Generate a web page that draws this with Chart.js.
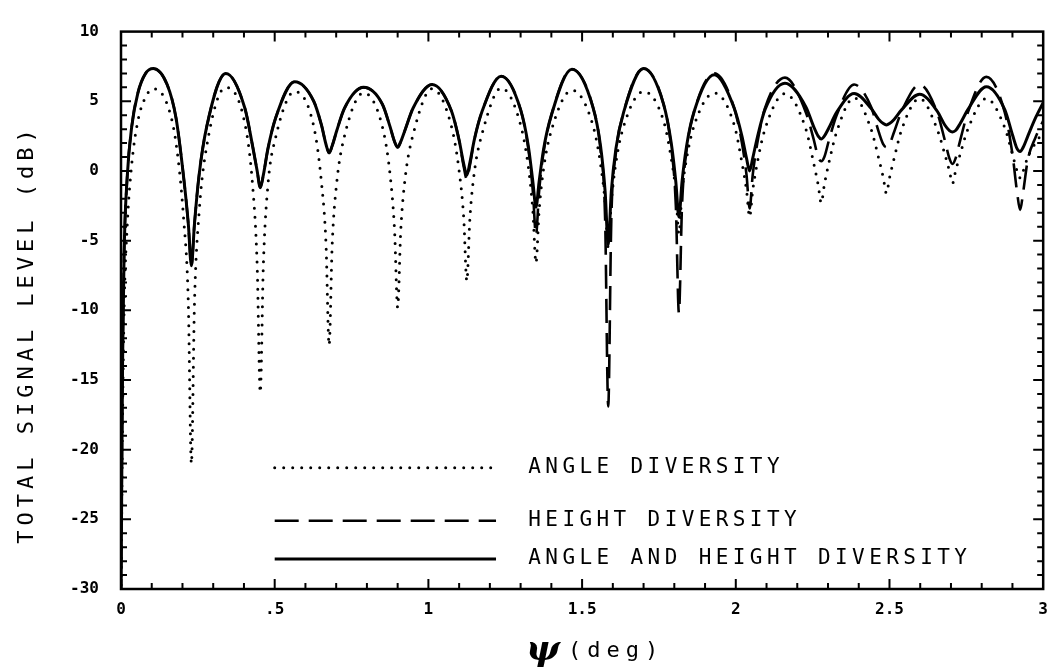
<!DOCTYPE html>
<html>
<head>
<meta charset="utf-8">
<script src="https://cdn.jsdelivr.net/npm/chart.js@4.4.1/dist/chart.umd.min.js"></script>
<style>
html, body { margin: 0; padding: 0; background: #fff; }
#wrap { width: 1059px; height: 670px; }
</style>
</head>
<body>
<div id="wrap"><canvas id="signal-chart" width="1059" height="670"></canvas></div>
<script>
// grazing angle samples (deg)
var psi = [
  0, 0.005, 0.01, 0.02, 0.035, 0.055, 0.08, 0.105, 0.15, 0.179, 0.204, 0.219,
  0.229, 0.239, 0.254, 0.279, 0.341, 0.403, 0.428, 0.443,
  0.453, 0.463, 0.478, 0.503, 0.565, 0.627, 0.652, 0.667,
  0.677, 0.687, 0.702, 0.727, 0.789, 0.85, 0.875, 0.89,
  0.90, 0.91, 0.925, 0.95, 1.012, 1.075, 1.10, 1.115,
  1.125, 1.135, 1.15, 1.175, 1.237, 1.30, 1.325, 1.34,
  1.35, 1.36, 1.375, 1.40, 1.467, 1.535, 1.56, 1.575,
  1.585, 1.595, 1.61, 1.635, 1.70, 1.765, 1.79, 1.805,
  1.815, 1.825, 1.84, 1.865, 1.93, 1.995, 2.02, 2.035,
  2.045, 2.055, 2.07, 2.095, 2.16, 2.228, 2.253, 2.268,
  2.278, 2.288, 2.303, 2.328, 2.385, 2.44, 2.465, 2.48,
  2.49, 2.50, 2.515, 2.54, 2.598, 2.655, 2.68, 2.695,
  2.705, 2.715, 2.73, 2.755, 2.815, 2.875, 2.90, 2.915,
  2.925, 2.935, 2.95, 2.975, 3.0
];

// ANGLE DIVERSITY (dB)
var angleDiv = [
  -31, -18, -10, -4, 0.5, 3.6, 5.3, 5.9, 4.8, 2.0, -3.5, -9.5,
  -21.0, -9.5, -3.0, 1.8, 6.0, 3.4, -1.0, -6.8,
  -15.9, -6.8, -1.0, 2.4, 5.7, 3.2, -0.8, -5.3,
  -12.5, -5.3, -0.8, 2.5, 5.6, 3.2, -0.2, -4.3,
  -9.8, -4.3, -0.4, 2.6, 5.9, 3.2, 0.0, -3.4,
  -7.9, -3.4, 0.0, 2.7, 5.95, 3.3, 0.3, -2.9,
  -6.6, -2.9, 0.2, 2.9, 5.8, 3.3, 0.5, -2.3,
  -5.5, -2.3, 0.6, 3.2, 5.7, 3.6, 0.9, -1.5,
  -4.5, -1.5, 0.9, 3.3, 5.6, 3.3, 0.6, -1.4,
  -3.3, -1.4, 0.6, 3.0, 5.55, 3.0, 0.6, -1.0,
  -2.3, -1.0, 0.6, 2.8, 5.25, 3.0, 0.9, -0.5,
  -1.6, -0.5, 0.9, 3.0, 5.2, 3.0, 1.2, 0.0,
  -0.9, 0.0, 1.2, 3.0, 5.2, 3.1, 1.2, 0.0,
  -0.5, 0.0, 1.0, 2.0, 2.8
];

// HEIGHT DIVERSITY (dB)
var heightDiv = [
  -31, -14, -6, -0.5, 3.2, 5.6, 7.0, 7.35, 6.2, 3.8, -0.5, -3.8,
  -6.8, -3.8, -0.3, 3.2, 7.0, 4.5, 1.8, 0.0,
  -1.2, -0.3, 1.6, 3.8, 6.4, 5.0, 3.3, 1.9,
  1.3, 1.8, 2.9, 4.5, 6.0, 4.8, 3.2, 2.1,
  1.7, 2.1, 3.0, 4.5, 6.2, 4.3, 2.2, 0.3,
  -0.6, 0.4, 2.3, 4.3, 6.8, 4.4, 1.6, -1.5,
  -4.6, -1.5, 1.4, 4.0, 7.3, 4.6, 1.5, -3.5,
  -16.9, -3.5, 1.3, 4.2, 7.35, 4.8, 1.7, -2.5,
  -10.2, -2.5, 1.5, 4.3, 7.0, 4.5, 2.0, -0.3,
  -2.7, -0.3, 2.0, 4.5, 6.7, 4.2, 2.3, 1.0,
  0.7, 1.0, 2.2, 4.0, 6.2, 4.6, 2.8, 1.9,
  1.7, 1.9, 2.8, 4.3, 6.2, 4.2, 2.2, 0.9,
  0.5, 0.9, 2.2, 4.2, 6.75, 4.2, 1.2, -1.5,
  -2.8, -1.5, 0.8, 2.4, 3.6
];

// ANGLE AND HEIGHT DIVERSITY (dB)
var bothDiv = [
  -31, -14, -6, -0.5, 3.2, 5.6, 7.0, 7.35, 6.2, 3.8, -0.5, -3.8,
  -6.8, -3.8, -0.3, 3.2, 7.0, 4.5, 1.8, 0.0,
  -1.2, -0.3, 1.6, 3.8, 6.4, 5.0, 3.3, 1.9,
  1.3, 1.8, 2.9, 4.5, 6.0, 4.8, 3.2, 2.1,
  1.7, 2.1, 3.0, 4.5, 6.2, 4.3, 2.2, 0.5,
  -0.3, 0.6, 2.3, 4.3, 6.8, 4.4, 1.8, -0.8,
  -2.6, -0.8, 1.6, 4.0, 7.3, 4.6, 1.8, -1.5,
  -5.3, -1.5, 1.6, 4.2, 7.35, 4.8, 2.0, -0.8,
  -3.3, -0.8, 1.8, 4.3, 6.9, 4.5, 2.5, 0.9,
  0.0, 0.9, 2.4, 4.4, 6.3, 4.6, 3.2, 2.5,
  2.3, 2.5, 3.1, 4.2, 5.55, 4.5, 3.7, 3.4,
  3.3, 3.4, 3.7, 4.4, 5.5, 4.3, 3.3, 2.9,
  2.8, 2.9, 3.4, 4.4, 6.05, 4.4, 2.6, 1.6,
  1.4, 1.7, 2.5, 3.8, 4.9
];

var seriesNames = ['ANGLE AND HEIGHT DIVERSITY', 'HEIGHT DIVERSITY', 'ANGLE DIVERSITY'];
var xTickLabels = ['0', '.5', '1', '1.5', '2', '2.5', '3'];
var yTickLabels = ['-30', '-25', '-20', '-15', '-10', '-5', '0', '5', '10'];

function pts(arr) {
  return psi.map(function(x, i) { return { x: x, y: arr[i] }; });
}

var monoFont = '"DejaVu Sans Mono", "Liberation Mono", monospace';

// frame with inward ticks, like the plotter output
var framePlugin = {
  id: 'frame',
  afterDatasetsDraw: function(chart) {
    var ctx = chart.ctx, a = chart.chartArea, xs = chart.scales.x, ys = chart.scales.y;
    ctx.save();
    ctx.strokeStyle = '#000';
    ctx.lineWidth = 2.5;
    ctx.strokeRect(a.left, a.top, a.right - a.left, a.bottom - a.top);
    ctx.lineWidth = 2;
    ctx.beginPath();
    for (var i = 1; i < 30; i++) {
      var px = xs.getPixelForValue(i / 10);
      var len = i % 5 === 0 ? 10 : 6;
      ctx.moveTo(px, a.bottom); ctx.lineTo(px, a.bottom - len);
      ctx.moveTo(px, a.top); ctx.lineTo(px, a.top + len);
    }
    for (var v = -29; v < 10; v++) {
      var py = ys.getPixelForValue(v);
      var l2 = v % 5 === 0 ? 10 : 6;
      ctx.moveTo(a.left, py); ctx.lineTo(a.left + l2, py);
      ctx.moveTo(a.right, py); ctx.lineTo(a.right - l2, py);
    }
    ctx.stroke();
    ctx.restore();
  }
};

// legend drawn inside the plot + axis titles
var textPlugin = {
  id: 'texts',
  afterDraw: function(chart) {
    var ctx = chart.ctx, xs = chart.scales.x, ys = chart.scales.y;
    var rowY = [-21.3, -25.1, -27.85];
    var order = [2, 1, 0];
    ctx.save();
    ctx.fillStyle = '#000';
    ctx.strokeStyle = '#000';
    order.forEach(function(di, r) {
      var ds = chart.data.datasets[di];
      var py = ys.getPixelForValue(rowY[r]);
      ctx.save();
      ctx.lineWidth = ds.borderWidth;
      ctx.lineCap = ds.borderCapStyle || 'butt';
      ctx.setLineDash(ds.borderDash || []);
      ctx.beginPath();
      ctx.moveTo(xs.getPixelForValue(0.5), py);
      ctx.lineTo(xs.getPixelForValue(1.22), py);
      ctx.stroke();
      ctx.restore();
      ctx.font = '21px ' + monoFont;
      ctx.letterSpacing = '4.4px';
      ctx.textBaseline = 'middle';
      ctx.textAlign = 'left';
      ctx.fillText(ds.label, xs.getPixelForValue(1.325), py);
    });

    // y axis title
    ctx.save();
    ctx.translate(27, 334);
    ctx.rotate(-Math.PI / 2);
    ctx.font = '22px ' + monoFont;
    ctx.letterSpacing = '5px';
    ctx.textAlign = 'center';
    ctx.textBaseline = 'middle';
    ctx.fillText('TOTAL SIGNAL LEVEL (dB)', 0, 0);
    ctx.restore();

    // x axis title
    ctx.textBaseline = 'alphabetic';
    ctx.textAlign = 'left';
    ctx.letterSpacing = '0px';
    ctx.font = 'italic bold 36px "DejaVu Serif", serif';
    ctx.fillText('\u03c8', 526, 660);
    ctx.font = '22px ' + monoFont;
    ctx.letterSpacing = '6px';
    ctx.fillText('(deg)', 568, 657);
    ctx.restore();
  }
};

var ctx = document.getElementById('signal-chart').getContext('2d');
var chart = new Chart(ctx, {
  type: 'line',
  data: {
    datasets: [{
      label: seriesNames[0],
      data: pts(bothDiv),
      borderColor: '#000',
      borderWidth: 3,
      order: 0
    }, {
      label: seriesNames[1],
      data: pts(heightDiv),
      borderColor: '#000',
      borderWidth: 2.6,
      borderDash: [24, 10],
      order: 1
    }, {
      label: seriesNames[2],
      data: pts(angleDiv),
      borderColor: '#000',
      borderWidth: 3,
      borderDash: [0, 9],
      borderCapStyle: 'round',
      order: 2
    }]
  },
  options: {
    responsive: false,
    animation: false,
    devicePixelRatio: 1,
    layout: { padding: { top: 17, right: 11, left: 0, bottom: 0 } },
    elements: {
      point: { radius: 0 },
      line: { cubicInterpolationMode: 'monotone', fill: false }
    },
    plugins: {
      legend: { display: false },
      tooltip: { enabled: false }
    },
    scales: {
      x: {
        type: 'linear',
        min: 0,
        max: 3,
        grid: { display: false, drawTicks: false },
        border: { display: false },
        afterFit: function(scale) { scale.height = 81; },
        ticks: {
          stepSize: 0.5,
          padding: 11,
          color: '#000',
          font: { family: monoFont, size: 16, weight: 'bold' },
          callback: function(v, i) { return xTickLabels[i]; }
        }
      },
      y: {
        min: -30,
        max: 10,
        grid: { display: false, drawTicks: false },
        border: { display: false },
        afterFit: function(scale) { scale.width = 121; },
        ticks: {
          stepSize: 5,
          padding: 22,
          color: '#000',
          font: { family: monoFont, size: 16, weight: 'bold' },
          callback: function(v, i) { return yTickLabels[i]; }
        }
      }
    }
  },
  plugins: [framePlugin, textPlugin]
});
</script>
</body>
</html>
